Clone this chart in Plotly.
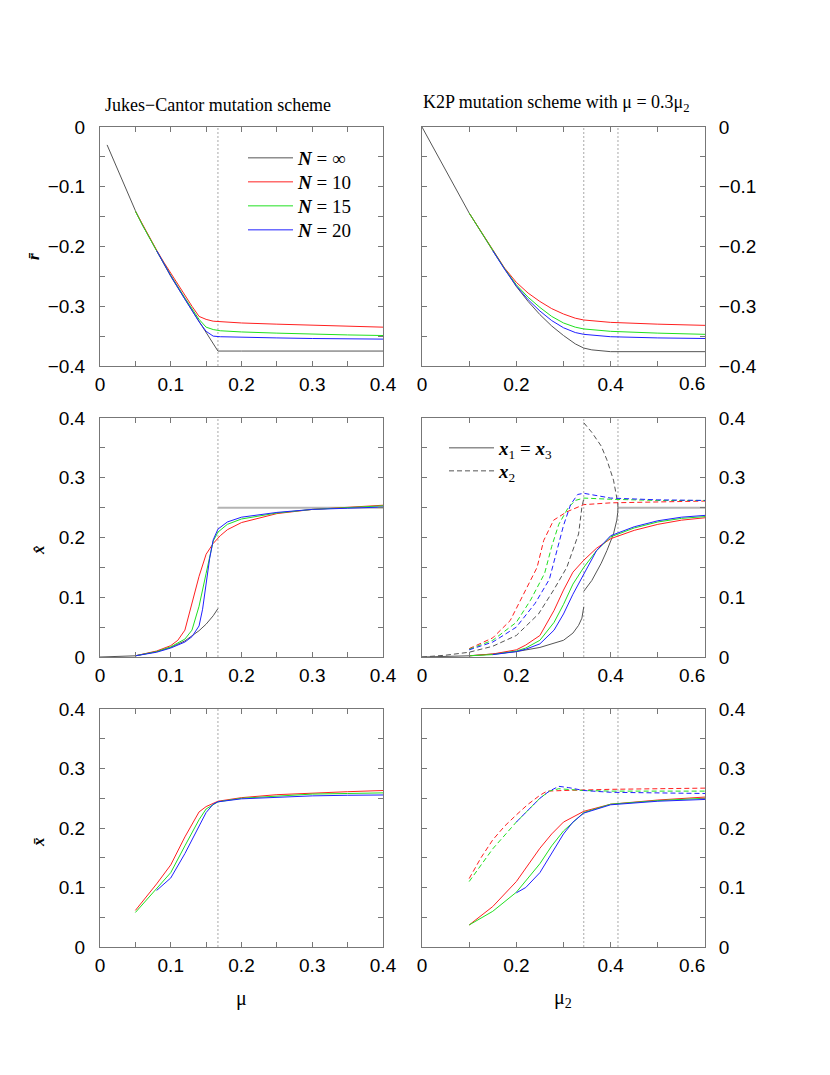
import plotly.graph_objects as go

# ---------------- data ----------------
# critical mutation rates (vertical dotted lines)
MU_C_JC = [0.1667]
MU2_C_K2P = [0.343, 0.4155]

# Panel a: r-bar vs mu (Jukes-Cantor)
A_MU_INF = [0.01, 0.02, 0.03, 0.04, 0.05, 0.06, 0.08, 0.10, 0.12, 0.14, 0.1667, 0.20, 0.30, 0.40]
A_R_INF = [-0.030, -0.058, -0.086, -0.113, -0.140, -0.164, -0.208, -0.250, -0.288, -0.325, -0.375, -0.375, -0.375, -0.375]
A_MU_10 = [0.05, 0.06, 0.07, 0.08, 0.09, 0.10, 0.11, 0.12, 0.13, 0.14, 0.15, 0.16, 0.17, 0.20, 0.25, 0.30, 0.35, 0.40]
A_R_10 = [-0.141, -0.163, -0.185, -0.206, -0.226, -0.245, -0.264, -0.282, -0.300, -0.317, -0.322, -0.325, -0.326, -0.328, -0.330, -0.332, -0.334, -0.335]
A_MU_15 = [0.05, 0.06, 0.08, 0.10, 0.12, 0.14, 0.15, 0.16, 0.17, 0.20, 0.25, 0.30, 0.35, 0.40]
A_R_15 = [-0.141, -0.164, -0.207, -0.248, -0.286, -0.322, -0.335, -0.339, -0.341, -0.343, -0.345, -0.347, -0.348, -0.349]
A_MU_20 = [0.08, 0.10, 0.12, 0.14, 0.15, 0.16, 0.17, 0.20, 0.25, 0.30, 0.35, 0.40]
A_R_20 = [-0.207, -0.249, -0.288, -0.326, -0.342, -0.350, -0.351, -0.352, -0.353, -0.354, -0.355, -0.355]

# Panel b: r-bar vs mu2 (K2P)
B_MU_INF = [0.0, 0.1, 0.15, 0.2, 0.225, 0.25, 0.275, 0.3, 0.325, 0.343, 0.36, 0.38, 0.4, 0.6]
B_R_INF = [0.0, -0.144, -0.207, -0.267, -0.292, -0.314, -0.333, -0.349, -0.363, -0.370, -0.373, -0.375, -0.376, -0.376]
B_MU_10 = [0.1, 0.15, 0.175, 0.2, 0.225, 0.25, 0.275, 0.3, 0.325, 0.343, 0.4, 0.5, 0.6]
B_R_10 = [-0.144, -0.205, -0.236, -0.260, -0.278, -0.292, -0.304, -0.313, -0.320, -0.323, -0.327, -0.330, -0.332]
B_MU_15 = [0.1, 0.15, 0.175, 0.2, 0.225, 0.25, 0.275, 0.3, 0.325, 0.343, 0.4, 0.5, 0.6]
B_R_15 = [-0.144, -0.206, -0.237, -0.264, -0.285, -0.302, -0.317, -0.328, -0.335, -0.338, -0.342, -0.345, -0.347]
B_MU_20 = [0.15, 0.175, 0.2, 0.225, 0.25, 0.275, 0.3, 0.325, 0.343, 0.4, 0.5, 0.6]
B_R_20 = [-0.207, -0.238, -0.266, -0.289, -0.308, -0.324, -0.336, -0.344, -0.347, -0.351, -0.353, -0.354]

# Panel c: x-hat vs mu (Jukes-Cantor)
C_MU_INF = [0.0, 0.02, 0.05, 0.08, 0.10, 0.12, 0.14, 0.15, 0.16, 0.1667]
C_X_INF = [0.0, 0.0005, 0.002, 0.009, 0.016, 0.027, 0.044, 0.055, 0.069, 0.081]
C_MU_FLAT = [0.1667, 0.40]
C_X_FLAT = [0.25, 0.25]
C_MU_10 = [0.05, 0.08, 0.10, 0.11, 0.12, 0.13, 0.14, 0.15, 0.16, 0.17, 0.18, 0.20, 0.25, 0.30, 0.35, 0.40]
C_X_10 = [0.002, 0.010, 0.019, 0.028, 0.045, 0.090, 0.135, 0.172, 0.190, 0.203, 0.213, 0.225, 0.240, 0.247, 0.251, 0.254]
C_MU_15 = [0.05, 0.08, 0.10, 0.12, 0.13, 0.14, 0.15, 0.155, 0.16, 0.1667, 0.18, 0.20, 0.25, 0.30, 0.35, 0.40]
C_X_15 = [0.002, 0.009, 0.017, 0.030, 0.045, 0.085, 0.140, 0.170, 0.194, 0.209, 0.222, 0.231, 0.241, 0.247, 0.250, 0.253]
C_MU_20 = [0.05, 0.08, 0.10, 0.12, 0.13, 0.14, 0.145, 0.15, 0.155, 0.16, 0.1667, 0.18, 0.20, 0.25, 0.30, 0.35, 0.40]
C_X_20 = [0.002, 0.008, 0.015, 0.025, 0.034, 0.052, 0.080, 0.120, 0.165, 0.196, 0.214, 0.226, 0.234, 0.242, 0.247, 0.249, 0.251]

# Panel d: x-hat vs mu2 (K2P); x1 = x3 solid, x2 dashed
D_MU_X1_INF_LO = [0.0, 0.05, 0.1, 0.15, 0.2, 0.25, 0.3, 0.32, 0.332, 0.339, 0.343]
D_X1_INF_LO = [0.0, 0.0005, 0.002, 0.005, 0.009, 0.016, 0.028, 0.040, 0.053, 0.065, 0.084]
D_MU_X1_INF_HI = [0.343, 0.36, 0.38, 0.392, 0.406, 0.413, 0.415, 0.4155]
D_X1_INF_HI = [0.110, 0.128, 0.157, 0.178, 0.206, 0.229, 0.242, 0.250]
D_MU_X2_INF_LO = [0.0, 0.05, 0.1, 0.15, 0.2, 0.247, 0.279, 0.307, 0.332, 0.339, 0.343]
D_X2_INF_LO = [0.0, 0.003, 0.008, 0.018, 0.036, 0.072, 0.112, 0.150, 0.206, 0.251, 0.265]
D_MU_X2_INF_HI = [0.343, 0.36, 0.38, 0.392, 0.406, 0.413, 0.415, 0.4155]
D_X2_INF_HI = [0.392, 0.376, 0.353, 0.330, 0.296, 0.268, 0.258, 0.250]
D_MU_FLAT = [0.4155, 0.6]
D_X_FLAT = [0.25, 0.25]

D_MU_X1 = [0.1, 0.15, 0.2, 0.22, 0.25, 0.28, 0.3, 0.32, 0.343, 0.37, 0.4, 0.45, 0.5, 0.55, 0.6]
D_X1_10 = [0.002, 0.005, 0.012, 0.020, 0.036, 0.078, 0.112, 0.142, 0.162, 0.182, 0.198, 0.212, 0.222, 0.229, 0.233]
D_X1_15 = [0.002, 0.004, 0.010, 0.015, 0.028, 0.058, 0.088, 0.122, 0.150, 0.178, 0.201, 0.216, 0.226, 0.232, 0.235]
D_MU_X1_20 = [0.15, 0.2, 0.22, 0.25, 0.28, 0.3, 0.32, 0.343, 0.37, 0.4, 0.45, 0.5, 0.55, 0.6]
D_X1_20 = [0.004, 0.009, 0.013, 0.022, 0.045, 0.072, 0.105, 0.138, 0.178, 0.203, 0.218, 0.228, 0.234, 0.237]

D_MU_X2_10 = [0.1, 0.15, 0.187, 0.216, 0.244, 0.258, 0.279, 0.307, 0.343, 0.4, 0.5, 0.6]
D_X2_10 = [0.014, 0.032, 0.061, 0.106, 0.150, 0.195, 0.229, 0.243, 0.255, 0.258, 0.260, 0.261]
D_MU_X2_15 = [0.1, 0.15, 0.2, 0.23, 0.26, 0.275, 0.29, 0.31, 0.325, 0.343, 0.4, 0.5, 0.6]
D_X2_15 = [0.013, 0.028, 0.058, 0.095, 0.140, 0.185, 0.222, 0.250, 0.262, 0.266, 0.264, 0.262, 0.262]
D_MU_X2_20 = [0.1, 0.15, 0.2, 0.24, 0.27, 0.285, 0.3, 0.315, 0.33, 0.343, 0.4, 0.5, 0.6]
D_X2_20 = [0.012, 0.025, 0.050, 0.090, 0.130, 0.175, 0.220, 0.255, 0.272, 0.274, 0.266, 0.263, 0.262]

# Panel e: x-bar vs mu (Jukes-Cantor)
E_MU_10 = [0.05, 0.08, 0.10, 0.12, 0.14, 0.15, 0.1667, 0.20, 0.25, 0.30, 0.35, 0.40]
E_X_10 = [0.0615, 0.106, 0.138, 0.185, 0.227, 0.236, 0.245, 0.251, 0.256, 0.259, 0.261, 0.263]
E_MU_15 = [0.05, 0.08, 0.10, 0.12, 0.14, 0.15, 0.1667, 0.20, 0.25, 0.30, 0.35, 0.40]
E_X_15 = [0.058, 0.098, 0.125, 0.170, 0.214, 0.232, 0.244, 0.250, 0.254, 0.257, 0.258, 0.259]
E_MU_20 = [0.08, 0.10, 0.12, 0.14, 0.15, 0.16, 0.1667, 0.20, 0.25, 0.30, 0.35, 0.40]
E_X_20 = [0.095, 0.116, 0.157, 0.202, 0.226, 0.240, 0.244, 0.249, 0.252, 0.254, 0.255, 0.2555]

# Panel f: x-bar vs mu2 (K2P)
F_MU_X1 = [0.1, 0.15, 0.2, 0.25, 0.275, 0.3, 0.343, 0.4, 0.5, 0.6]
F_X1_10 = [0.037, 0.068, 0.110, 0.166, 0.190, 0.210, 0.228, 0.240, 0.247, 0.252]
F_X1_15 = [0.037, 0.060, 0.092, 0.140, 0.170, 0.195, 0.226, 0.240, 0.246, 0.250]
F_MU_X1_20 = [0.2, 0.22, 0.25, 0.28, 0.3, 0.32, 0.343, 0.4, 0.5, 0.6]
F_X1_20 = [0.091, 0.100, 0.125, 0.165, 0.190, 0.210, 0.225, 0.239, 0.245, 0.248]
F_MU_X2_10 = [0.1, 0.125, 0.15, 0.175, 0.2, 0.225, 0.25, 0.265, 0.3, 0.343, 0.4, 0.5, 0.6]
F_X2_10 = [0.115, 0.150, 0.180, 0.203, 0.222, 0.240, 0.255, 0.262, 0.263, 0.264, 0.265, 0.266, 0.267]
F_MU_X2_15 = [0.1, 0.15, 0.2, 0.25, 0.27, 0.29, 0.343, 0.4, 0.5, 0.6]
F_X2_15 = [0.110, 0.165, 0.210, 0.250, 0.262, 0.266, 0.263, 0.262, 0.262, 0.262]
F_MU_X2_20 = [0.2, 0.25, 0.27, 0.29, 0.31, 0.343, 0.4, 0.5, 0.6]
F_X2_20 = [0.210, 0.250, 0.262, 0.270, 0.268, 0.263, 0.260, 0.259, 0.258]

# tick labels
X_TICKS_JC = [0, 0.1, 0.2, 0.3, 0.4]
X_LABELS_JC = ["0", "0.1", "0.2", "0.3", "0.4"]
X_TICKS_K2P = [0, 0.2, 0.4]
X_LABELS_K2P = ["0", "0.2", "0.4"]
X_END_K2P = 0.6
X_END_LABEL_K2P = "0.6"   # drawn slightly left of its tick, as in the original

# ---------------- styling ----------------
W, H = 830, 1075
BLACK = "#555555"
RED = "#ff2020"
GREEN = "#20e020"
BLUE = "#2020ff"
FLAT = "#b4b4b4"
LW = 1
DASH = "5px,3px"

XD_L = [100 / W, 383 / W]
XD_R = [422 / W, 705 / W]
YD = [[1 - 366 / H, 1 - 127 / H], [1 - 657 / H, 1 - 418 / H], [1 - 947 / H, 1 - 709 / H]]

fig = go.Figure()


def add(x, y, ax, color, dash="solid", name=None, legend=None, width=LW):
    xa, ya = ax
    fig.add_trace(go.Scatter(
        x=x, y=y, mode="lines", xaxis=xa, yaxis=ya,
        line=dict(color=color, width=width, dash=dash),
        name=name or "", showlegend=legend is not None,
        legend=legend or "legend", hoverinfo="skip"))


A = ("x", "y"); B = ("x2", "y2"); C = ("x3", "y3")
D = ("x4", "y4"); E = ("x5", "y5"); F = ("x6", "y6")

NLBL = "<b><i>N</i></b> = "
# panel a (each legend row is its own legend box)
add(A_MU_INF, A_R_INF, A, BLACK, name=NLBL + "\u221e", legend="legend")
add(A_MU_10, A_R_10, A, RED, name=NLBL + "10", legend="legend2")
add(A_MU_15, A_R_15, A, GREEN, name=NLBL + "15", legend="legend3")
add(A_MU_20, A_R_20, A, BLUE, name=NLBL + "20", legend="legend4")
# panel b
add(B_MU_INF, B_R_INF, B, BLACK)
add(B_MU_10, B_R_10, B, RED)
add(B_MU_15, B_R_15, B, GREEN)
add(B_MU_20, B_R_20, B, BLUE)
# panel c
add(C_MU_FLAT, C_X_FLAT, C, FLAT, width=2)
add(C_MU_INF, C_X_INF, C, BLACK)
add(C_MU_10, C_X_10, C, RED)
add(C_MU_15, C_X_15, C, GREEN)
add(C_MU_20, C_X_20, C, BLUE)
# panel d
add(D_MU_FLAT, D_X_FLAT, D, FLAT, width=2)
add(D_MU_X1_INF_LO, D_X1_INF_LO, D, BLACK,
    name="<b><i>x</i></b><sub>1</sub> = <b><i>x</i></b><sub>3</sub>", legend="legend5")
add(D_MU_X2_INF_LO, D_X2_INF_LO, D, BLACK, dash=DASH, name="<b><i>x</i></b><sub>2</sub>", legend="legend6")
add(D_MU_X1_INF_HI, D_X1_INF_HI, D, BLACK)
add(D_MU_X2_INF_HI, D_X2_INF_HI, D, BLACK, dash=DASH)
add(D_MU_X1, D_X1_10, D, RED)
add(D_MU_X1, D_X1_15, D, GREEN)
add(D_MU_X1_20, D_X1_20, D, BLUE)
add(D_MU_X2_10, D_X2_10, D, RED, dash=DASH)
add(D_MU_X2_15, D_X2_15, D, GREEN, dash=DASH)
add(D_MU_X2_20, D_X2_20, D, BLUE, dash=DASH)
# panel e
add(E_MU_10, E_X_10, E, RED)
add(E_MU_15, E_X_15, E, GREEN)
add(E_MU_20, E_X_20, E, BLUE)
# panel f
add(F_MU_X1, F_X1_10, F, RED)
add(F_MU_X1, F_X1_15, F, GREEN)
add(F_MU_X1_20, F_X1_20, F, BLUE)
add(F_MU_X2_10, F_X2_10, F, RED, dash=DASH)
add(F_MU_X2_15, F_X2_15, F, GREEN, dash=DASH)
add(F_MU_X2_20, F_X2_20, F, BLUE, dash=DASH)

# vertical dotted lines at critical mutation rates
VL = dict(color="#a8a8a8", width=1, dash="2px,2px")
for ax in (A, C, E):
    for v in MU_C_JC:
        fig.add_shape(type="line", xref=ax[0], yref=ax[1] + " domain", x0=v, x1=v, y0=0, y1=1,
                      line=VL, layer="below")
for ax in (B, D, F):
    for v in MU2_C_K2P:
        fig.add_shape(type="line", xref=ax[0], yref=ax[1] + " domain", x0=v, x1=v, y0=0, y1=1,
                      line=VL, layer="below")

TICKFONT = dict(family="Liberation Sans, Arial, sans-serif", size=19, color="black")
AXC = "#777777"


def xaxis(domain, anchor, rng, dtick, ticks, labels):
    return dict(domain=domain, anchor=anchor, range=rng, tickmode="array",
                tickvals=ticks, ticktext=labels,
                ticks="inside", ticklen=5, tickcolor=AXC, tickwidth=1,
                showline=True, linecolor=AXC, linewidth=1, mirror="ticks",
                showgrid=False, zeroline=False, tickfont=TICKFONT, automargin=False,
                ticklabelstandoff=1,
                minor=dict(dtick=dtick / 2, tick0=0, ticks="inside", ticklen=5,
                           tickcolor=AXC, showgrid=False))


def yaxis(domain, anchor, rng, side):
    return dict(domain=domain, anchor=anchor, range=rng, tick0=0, dtick=0.1, side=side,
                ticks="inside", ticklen=5, tickcolor=AXC, tickwidth=1,
                showline=True, linecolor=AXC, linewidth=1, mirror="ticks",
                showgrid=False, zeroline=False, tickfont=TICKFONT, automargin=False,
                ticklabelstandoff=10 if side == "left" else 9,
                minor=dict(dtick=0.05, tick0=0, ticks="inside", ticklen=5,
                           tickcolor=AXC, showgrid=False))


LEGFONT = dict(family="Liberation Serif, Times New Roman, serif", size=19, color="black")


def leg(xpx, ypx):
    return dict(x=xpx / W, y=1 - ypx / H, xanchor="left", yanchor="middle",
                font=LEGFONT, itemwidth=45, bgcolor="rgba(0,0,0,0)", borderwidth=0)


layout = dict(
    width=W, height=H, margin=dict(l=0, r=0, t=0, b=0, pad=0, autoexpand=False),
    paper_bgcolor="white", plot_bgcolor="white",
    font=dict(family="Liberation Serif, Times New Roman, serif", color="black"),
    xaxis=xaxis(XD_L, "y", [0, 0.4], 0.1, X_TICKS_JC, X_LABELS_JC),
    yaxis=yaxis(YD[0], "x", [-0.4, 0], "left"),
    xaxis2=xaxis(XD_R, "y2", [0, 0.6], 0.2, X_TICKS_K2P, X_LABELS_K2P),
    yaxis2=yaxis(YD[0], "x2", [-0.4, 0], "right"),
    xaxis3=xaxis(XD_L, "y3", [0, 0.4], 0.1, X_TICKS_JC, X_LABELS_JC),
    yaxis3=yaxis(YD[1], "x3", [0, 0.4], "left"),
    xaxis4=xaxis(XD_R, "y4", [0, 0.6], 0.2, X_TICKS_K2P, X_LABELS_K2P),
    yaxis4=yaxis(YD[1], "x4", [0, 0.4], "right"),
    xaxis5=xaxis(XD_L, "y5", [0, 0.4], 0.1, X_TICKS_JC, X_LABELS_JC),
    yaxis5=yaxis(YD[2], "x5", [0, 0.4], "left"),
    xaxis6=xaxis(XD_R, "y6", [0, 0.6], 0.2, X_TICKS_K2P, X_LABELS_K2P),
    yaxis6=yaxis(YD[2], "x6", [0, 0.4], "right"),
    legend=leg(243, 158), legend2=leg(243, 182), legend3=leg(243, 206), legend4=leg(243, 230),
    legend5=leg(444, 448), legend6=leg(444, 471),
    showlegend=True,
)
fig.update_layout(**layout)

SERIF = "Liberation Serif, Times New Roman, serif"
ann = [
    dict(text="Jukes\u2212Cantor mutation scheme", x=103 / W, y=1 - 117 / H, xanchor="left", yanchor="bottom",
         font=dict(family=SERIF, size=18)),
    dict(text="K2P mutation scheme with \u03bc = 0.3\u03bc<sub>2</sub>", x=421 / W, y=1 - 117 / H,
         xanchor="left", yanchor="bottom", font=dict(family=SERIF, size=18)),
    dict(text="<b><i>r\u0304</i></b>", x=33 / W, y=1 - 256 / H, textangle=-90,
         xanchor="center", yanchor="middle", font=dict(family=SERIF, size=17)),
    dict(text="<b><i>x\u0302</i></b>", x=38 / W, y=1 - 550 / H, textangle=-90,
         xanchor="center", yanchor="middle", font=dict(family=SERIF, size=17)),
    dict(text="<b><i>x\u0304</i></b>", x=38 / W, y=1 - 842 / H, textangle=-90,
         xanchor="center", yanchor="middle", font=dict(family=SERIF, size=17)),
    dict(text="\u03bc", x=241 / W, y=1 - 998 / H, xanchor="center", yanchor="middle",
         font=dict(family=SERIF, size=20)),
    dict(text="\u03bc<sub>2</sub>", x=563 / W, y=1 - 998 / H, xanchor="center", yanchor="middle",
         font=dict(family=SERIF, size=20)),
]
for a in ann:
    a.update(xref="paper", yref="paper", showarrow=False)
# end label of the K2P mu2 axes, nudged left of the corner as in the original
for xa, ya in (B, D, F):
    ann.append(dict(text=X_END_LABEL_K2P, x=X_END_K2P, y=0, xref=xa, yref=ya + " domain",
                    xanchor="center", yanchor="middle", xshift=-13, yshift=-18,
                    showarrow=False, font=TICKFONT))
fig.update_layout(annotations=ann)

fig.write_html("out.html", config={"displayModeBar": False},
               post_script="document.body.style.margin='0';document.body.style.overflow='hidden';")
